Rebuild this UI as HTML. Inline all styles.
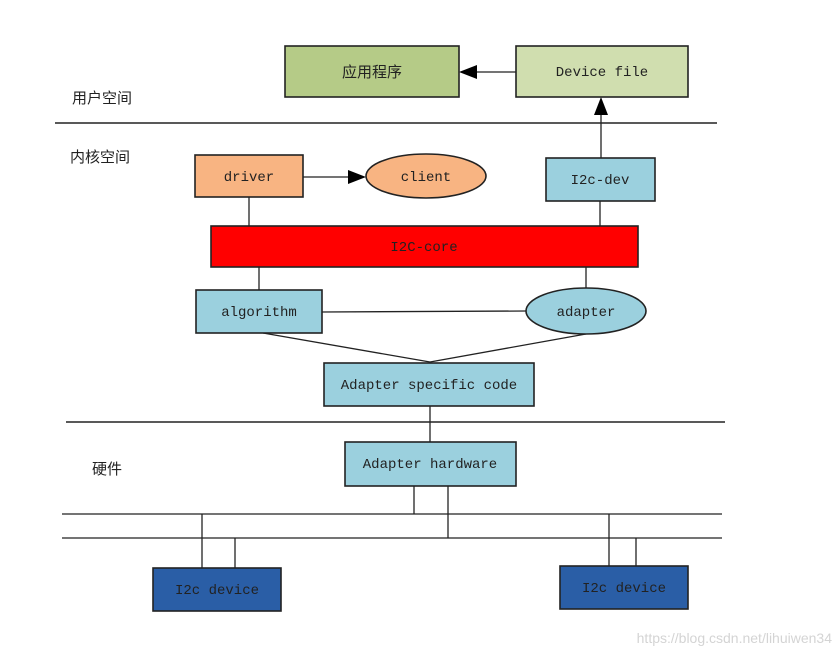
<!DOCTYPE html>
<html><head><meta charset="utf-8"><style>
html,body{margin:0;padding:0;background:#fff;}
svg text{font-family:"Liberation Mono","Noto Serif CJK SC",monospace;font-size:14px;fill:#222;}
.cn{font-family:"Liberation Sans","Noto Sans CJK SC",sans-serif;font-size:15px;}
</style></head><body>
<svg width="840" height="656" viewBox="0 0 840 656" xmlns="http://www.w3.org/2000/svg">
<g stroke="#222" stroke-width="1.3" fill="none">
<line x1="55" y1="123" x2="717" y2="123" stroke-width="1.6"/>
<line x1="66" y1="422" x2="725" y2="422" stroke-width="1.6"/>
<line x1="62" y1="514" x2="722" y2="514"/>
<line x1="62" y1="538" x2="722" y2="538"/>
<line x1="516" y1="72" x2="476" y2="72"/>
<line x1="601" y1="158" x2="601" y2="114"/>
<line x1="303" y1="177" x2="350" y2="177"/>
<line x1="249" y1="197" x2="249" y2="226"/>
<line x1="600" y1="201" x2="600" y2="226"/>
<line x1="259" y1="267" x2="259" y2="290"/>
<line x1="586" y1="267" x2="586" y2="288"/>
<line x1="322" y1="312" x2="526" y2="311"/>
<line x1="263" y1="333" x2="430" y2="362"/>
<line x1="586" y1="334" x2="430" y2="362"/>
<line x1="430" y1="406" x2="430" y2="442"/>
<line x1="414" y1="486" x2="414" y2="514"/>
<line x1="448" y1="486" x2="448" y2="538"/>
<line x1="202" y1="514" x2="202" y2="568"/>
<line x1="235" y1="538" x2="235" y2="568"/>
<line x1="609" y1="514" x2="609" y2="566"/>
<line x1="636" y1="538" x2="636" y2="566"/>
</g>
<g fill="#000">
<polygon points="459,72 477,65 477,79"/>
<polygon points="601,97 594,115 608,115"/>
<polygon points="366,177 348,170 348,184"/>
</g>
<g stroke="#222" stroke-width="1.6">
<rect x="285" y="46" width="174" height="51" fill="#b5cb87"/>
<rect x="516" y="46" width="172" height="51" fill="#d0deaf"/>
<rect x="195" y="155" width="108" height="42" fill="#f8b482"/>
<ellipse cx="426" cy="176" rx="60" ry="22" fill="#f8b482"/>
<rect x="546" y="158" width="109" height="43" fill="#9bd0de"/>
<rect x="211" y="226" width="427" height="41" fill="#ff0000"/>
<rect x="196" y="290" width="126" height="43" fill="#9bd0de"/>
<ellipse cx="586" cy="311" rx="60" ry="23" fill="#9bd0de"/>
<rect x="324" y="363" width="210" height="43" fill="#9bd0de"/>
<rect x="345" y="442" width="171" height="44" fill="#9bd0de"/>
<rect x="153" y="568" width="128" height="43" fill="#2a5ea6"/>
<rect x="560" y="566" width="128" height="43" fill="#2a5ea6"/>
</g>
<g text-anchor="middle">
<text x="372" y="77" class="cn">应用程序</text>
<text x="602" y="76">Device file</text>
<text x="249" y="181">driver</text>
<text x="426" y="181">client</text>
<text x="600" y="184">I2c-dev</text>
<text x="424" y="251">I2C-core</text>
<text x="259" y="316">algorithm</text>
<text x="586" y="316">adapter</text>
<text x="429" y="389">Adapter specific code</text>
<text x="430" y="468">Adapter hardware</text>
<text x="217" y="594">I2c device</text>
<text x="624" y="592">I2c device</text>
</g>
<text x="72" y="103" class="cn">用户空间</text>
<text x="70" y="162" class="cn">内核空间</text>
<text x="92" y="474" class="cn">硬件</text>
<text x="832" y="643" text-anchor="end" style="font-family:'Liberation Sans',sans-serif;font-size:14px;fill:#d4d4d4">https://blog.csdn.net/lihuiwen34</text>
</svg>
</body></html>
